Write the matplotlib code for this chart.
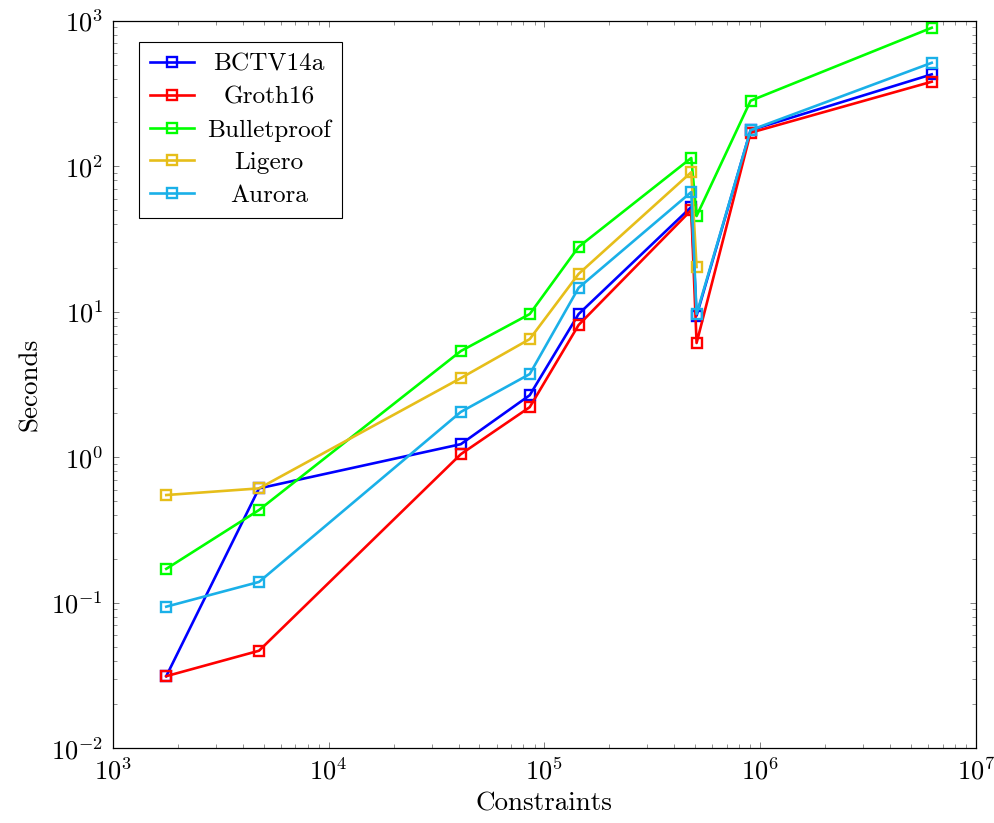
import matplotlib
matplotlib.use("Agg")
import matplotlib.pyplot as plt
from matplotlib.ticker import LogLocator, NullFormatter

plt.rcParams["font.family"] = ["cmr10", "DejaVu Serif"]
plt.rcParams["mathtext.fontset"] = "cm"
plt.rcParams["axes.formatter.use_mathtext"] = True

# constraint counts (x axis)
constraints = [1770, 4760, 41000, 85500, 144000, 479000, 507000, 902000, 6230000]

# prover time in seconds per scheme
bctv14a = [0.0313, 0.611, 1.23, 2.67, 9.64, 52.5, 9.4, 177, 428]
groth16 = [0.0313, 0.0468, 1.05, 2.21, 8.11, 50.0, 6.1, 170, 381]
bulletproof = [0.171, 0.434, 5.37, 9.64, 27.9, 114, 45.5, 282, 895]
ligero = [0.550, 0.611, 3.50, 6.49, 18.2, 91, 20.3]
aurora = [0.094, 0.139, 2.05, 3.73, 14.6, 66.5, 9.64, 177, 514]

SERIES = [
    ("BCTV14a", bctv14a, "#0000ff"),
    ("Groth16", groth16, "#ff0000"),
    ("Bulletproof", bulletproof, "#00ff00"),
    ("Ligero", ligero, "#e6be1a"),
    ("Aurora", aurora, "#1ab0e8"),
]

fig = plt.figure(figsize=(9.95, 8.23), dpi=100)
ax = fig.add_axes([0.1133, 0.0908, 0.981 - 0.1133, 0.9748 - 0.0908])

for name, vals, color in SERIES:
    ax.plot(constraints[:len(vals)], vals, color=color, lw=1.9, marker="s",
            ms=7.5, mfc="none", mec=color, mew=1.7, label=name)

ax.set_xscale("log")
ax.set_yscale("log")
ax.set_xlim(1e3, 1e7)
ax.set_ylim(1e-2, 1e3)

ax.xaxis.set_major_locator(LogLocator(base=10, numticks=10))
ax.yaxis.set_major_locator(LogLocator(base=10, numticks=10))
ax.xaxis.set_minor_locator(LogLocator(base=10, subs=range(2, 10), numticks=20))
ax.yaxis.set_minor_locator(LogLocator(base=10, subs=range(2, 10), numticks=20))
ax.yaxis.set_minor_formatter(NullFormatter())
ax.xaxis.set_minor_formatter(NullFormatter())

ax.tick_params(which="both", direction="in", top=True, right=True,
               color="#808080", labelsize=19)
ax.tick_params(which="major", length=4.5, width=0.7, pad=7)
ax.tick_params(which="minor", length=2.6, width=0.6)
for sp in ax.spines.values():
    sp.set_linewidth(0.9)

ax.set_xlabel("Constraints", fontsize=19.5, labelpad=5)
ax.set_ylabel("Seconds", fontsize=19.5, labelpad=6)

leg = ax.legend(loc="upper left", bbox_to_anchor=(0.0305, 0.9703),
                borderaxespad=0, fontsize=18.2, frameon=True, fancybox=False,
                edgecolor="black", framealpha=1, borderpad=0.43,
                handlelength=1.75, handletextpad=0.5, labelspacing=0.4)
leg.get_frame().set_linewidth(0.8)

# centre the legend labels like pgfplots does
fig.canvas.draw()
renderer = fig.canvas.get_renderer()
widths = [t.get_window_extent(renderer).width for t in leg.get_texts()]
maxw = max(widths)
for t, w in zip(leg.get_texts(), widths):
    t.set_position(((maxw - w) / 2, 0))

fig.savefig("out.png", dpi=100)
